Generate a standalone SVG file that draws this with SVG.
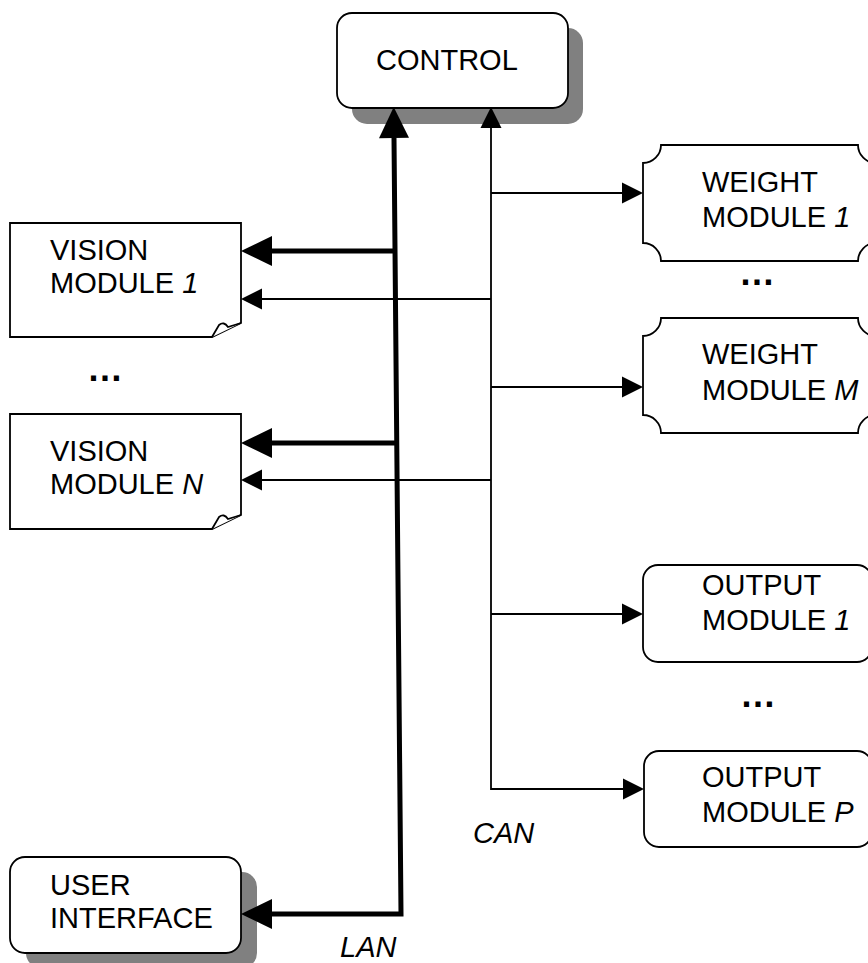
<svg xmlns="http://www.w3.org/2000/svg" width="868" height="963" viewBox="0 0 868 963">
<defs>
<style>
.box{fill:#fff;stroke:#000;stroke-width:1.8}
.shadow{fill:#808080}
.t{font-family:"Liberation Sans",Arial,sans-serif;font-size:29px;fill:#000}
.i{font-style:italic}
.dots{font-family:"Liberation Sans",Arial,sans-serif;font-size:36px;font-weight:bold;fill:#000;text-anchor:middle}
.thick{fill:none;stroke:#000;stroke-width:5}
.thin{fill:none;stroke:#000;stroke-width:1.8}
</style>
<marker id="ah-thick" markerUnits="userSpaceOnUse" markerWidth="31" markerHeight="31" refX="0" refY="15" orient="auto-start-reverse" overflow="visible">
<path d="M0,0 L31,15 L0,30 Z" fill="#000"/>
</marker>
<marker id="ah-thin" markerUnits="userSpaceOnUse" markerWidth="21" markerHeight="21" refX="0" refY="10.5" orient="auto-start-reverse" overflow="visible">
<path d="M0,0 L21,10.5 L0,21 Z" fill="#000"/>
</marker>
</defs>
<rect width="868" height="963" fill="#fff"/>

<g id="control">
<rect class="shadow" x="352" y="28" width="231" height="96" rx="15"/>
<rect class="box" x="337" y="13" width="231" height="95" rx="15"/>
<text class="t" x="376" y="70">CONTROL</text>
</g>

<g id="vision1">
<path class="box" d="M10,223 H241 V323 L212,337 H10 Z"/>
<path class="box" d="M212,337 L219,325 Q224,321 228,327 L241,323"/>
<text class="t" x="50" y="260">VISION</text>
<text class="t" x="50" y="293">MODULE <tspan class="i">1</tspan></text>
</g>

<text class="dots" x="105" y="381">…</text>

<g id="visionN">
<path class="box" d="M10,414 H241 V515 L212,529 H10 Z"/>
<path class="box" d="M212,529 L219,517 Q224,513 228,519 L241,515"/>
<text class="t" x="50" y="461">VISION</text>
<text class="t" x="50" y="494">MODULE <tspan class="i">N</tspan></text>
</g>

<g id="userinterface">
<rect class="shadow" x="26" y="872" width="231" height="96" rx="15"/>
<rect class="box" x="10" y="857" width="231" height="96" rx="15"/>
<text class="t" x="50" y="895">USER</text>
<text class="t" x="50" y="928">INTERFACE</text>
</g>

<g id="weight1">
<path class="box" d="M661,145 H858 A18,18 0 0 0 876,163 V243 A18,18 0 0 0 858,261 H661 A18,18 0 0 0 643,243 V163 A18,18 0 0 0 661,145 Z"/>
<text class="t" x="702" y="192">WEIGHT</text>
<text class="t" x="702" y="227">MODULE <tspan class="i">1</tspan></text>
</g>

<text class="dots" x="757" y="285">…</text>

<g id="weightM">
<path class="box" d="M661,318 H858 A18,18 0 0 0 876,336 V415 A18,18 0 0 0 858,433 H661 A18,18 0 0 0 643,415 V336 A18,18 0 0 0 661,318 Z"/>
<text class="t" x="702" y="364">WEIGHT</text>
<text class="t" x="702" y="400">MODULE <tspan class="i">M</tspan></text>
</g>

<g id="output1">
<rect class="box" x="643" y="565" width="229" height="97" rx="15"/>
<text class="t" x="702" y="595">OUTPUT</text>
<text class="t" x="702" y="630">MODULE <tspan class="i">1</tspan></text>
</g>

<text class="dots" x="758" y="707">…</text>

<g id="outputP">
<rect class="box" x="644" y="751" width="228" height="96" rx="15"/>
<text class="t" x="702" y="787">OUTPUT</text>
<text class="t" x="702" y="822">MODULE <tspan class="i">P</tspan></text>
</g>

<g id="connectors">
<!-- LAN -->
<polyline class="thick" points="272,914 401,914 394,138" marker-start="url(#ah-thick)" marker-end="url(#ah-thick)"/>
<line class="thick" x1="394" y1="251" x2="272" y2="251" marker-end="url(#ah-thick)"/>
<line class="thick" x1="395" y1="443" x2="272" y2="443" marker-end="url(#ah-thick)"/>
<!-- CAN -->
<polyline class="thin" points="491,128 491,789 623,789" marker-start="url(#ah-thin)" marker-end="url(#ah-thin)"/>
<line class="thin" x1="491" y1="193" x2="622" y2="193" marker-end="url(#ah-thin)"/>
<line class="thin" x1="491" y1="387" x2="622" y2="387" marker-end="url(#ah-thin)"/>
<line class="thin" x1="491" y1="614" x2="622" y2="614" marker-end="url(#ah-thin)"/>
<line class="thin" x1="491" y1="299" x2="262" y2="299" marker-end="url(#ah-thin)"/>
<line class="thin" x1="491" y1="480" x2="262" y2="480" marker-end="url(#ah-thin)"/>
<text class="t i" x="473" y="843">CAN</text>
<text class="t i" x="340" y="957">LAN</text>
</g>
</svg>
